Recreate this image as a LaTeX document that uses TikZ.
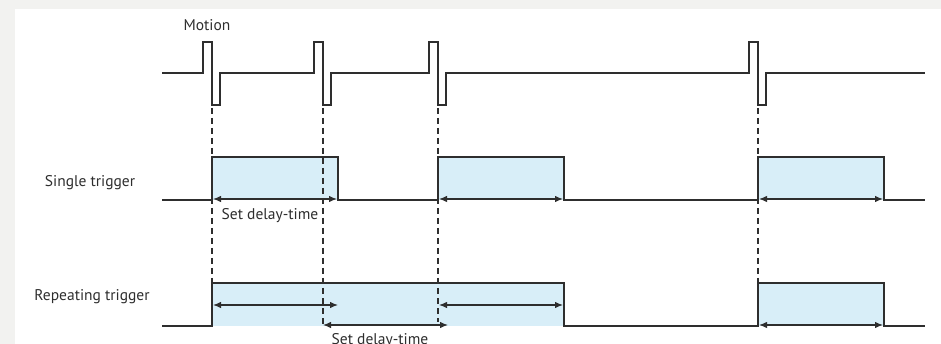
\documentclass[tikz,border=0pt]{standalone}
\usepackage{fontspec}
\setmainfont{PT Sans}
\usetikzlibrary{arrows.meta}
\definecolor{bgray}{HTML}{F2F2F0}
\definecolor{boxfill}{HTML}{D8EEF8}
\definecolor{wline}{HTML}{2E2E2E}
\begin{document}
\begin{tikzpicture}[x=1pt,y=-1pt,
  wave/.style={draw=wline,line width=1.4pt,line join=miter},
  pulse/.style={fill=boxfill,draw=none},
  guide/.style={draw=wline,line width=1.3pt,dash pattern=on 6pt off 4pt},
  span/.style={draw=wline,line width=1.2pt,{Latex[length=8pt,width=6.5pt]}-{Latex[length=8pt,width=6.5pt]}},
  lbl/.style={font=\fontsize{15.5pt}{17pt}\selectfont,text=wline,inner sep=0pt}]
\useasboundingbox (0,0) rectangle (941,344);
\clip (0,0) rectangle (941,344);
\fill[bgray] (0,0) rectangle (941,344);
\fill[white] (15,9) rectangle (941,344);

% labels
\node[lbl] (motion) at (207,25) {Motion};
\node[lbl] (single) at (90,183) {Single trigger};
\node[lbl] (repeat) at (92,297) {Repeating trigger};
\node[lbl] (sd1) at (270,216) {Set delay-time};
\node[lbl] (sd2) at (380,341) {Set delay-time};

% filled pulses
\fill[pulse] (212,157) rectangle (338,200);
\fill[pulse] (438,157) rectangle (564,200);
\fill[pulse] (758,157) rectangle (884,200);
\fill[pulse] (212,283) rectangle (564,326);
\fill[pulse] (758,283) rectangle (884,326);

% dashed guides
\draw[guide] (212,108) -- (212,283);
\draw[guide] (323,108) -- (323,326);
\draw[guide] (438,108) -- (438,322);
\draw[guide] (758,108) -- (758,284);

% motion waveform
\draw[wave] (162,73) -- (203,73) -- (203,42) -- (212,42) -- (212,105) -- (220,105) -- (220,73)
  -- (314,73) -- (314,42) -- (323,42) -- (323,105) -- (331,105) -- (331,73)
  -- (429,73) -- (429,42) -- (438,42) -- (438,105) -- (446,105) -- (446,73)
  -- (749,73) -- (749,42) -- (758,42) -- (758,105) -- (766,105) -- (766,73)
  -- (925,73);

% single trigger waveform
\draw[wave] (162,200) -- (212,200) -- (212,157) -- (338,157) -- (338,200)
  -- (438,200) -- (438,157) -- (564,157) -- (564,200)
  -- (758,200) -- (758,157) -- (884,157) -- (884,200) -- (925,200);

% repeating trigger waveform
\draw[wave] (162,326) -- (212,326) -- (212,283) -- (564,283) -- (564,326)
  -- (758,326) -- (758,283) -- (884,283) -- (884,326) -- (925,326);

% delay spans
\coordinate (s1a) at (213,199); \coordinate (s1b) at (337,199);
\coordinate (s2a) at (439,199); \coordinate (s2b) at (563,199);
\coordinate (s3a) at (759,199); \coordinate (s3b) at (883,199);
\draw[span] (s1a) -- (s1b);
\draw[span] (s2a) -- (s2b);
\draw[span] (s3a) -- (s3b);
\coordinate (r1a) at (213,305); \coordinate (r1b) at (338,305);
\coordinate (r2a) at (323,325); \coordinate (r2b) at (448,325);
\coordinate (r3a) at (439,305); \coordinate (r3b) at (563,305);
\coordinate (r4a) at (759,325); \coordinate (r4b) at (883,325);
\draw[span] (r1a) -- (r1b);
\draw[span] (r2a) -- (r2b);
\draw[span] (r3a) -- (r3b);
\draw[span] (r4a) -- (r4b);
\end{tikzpicture}
\end{document}
